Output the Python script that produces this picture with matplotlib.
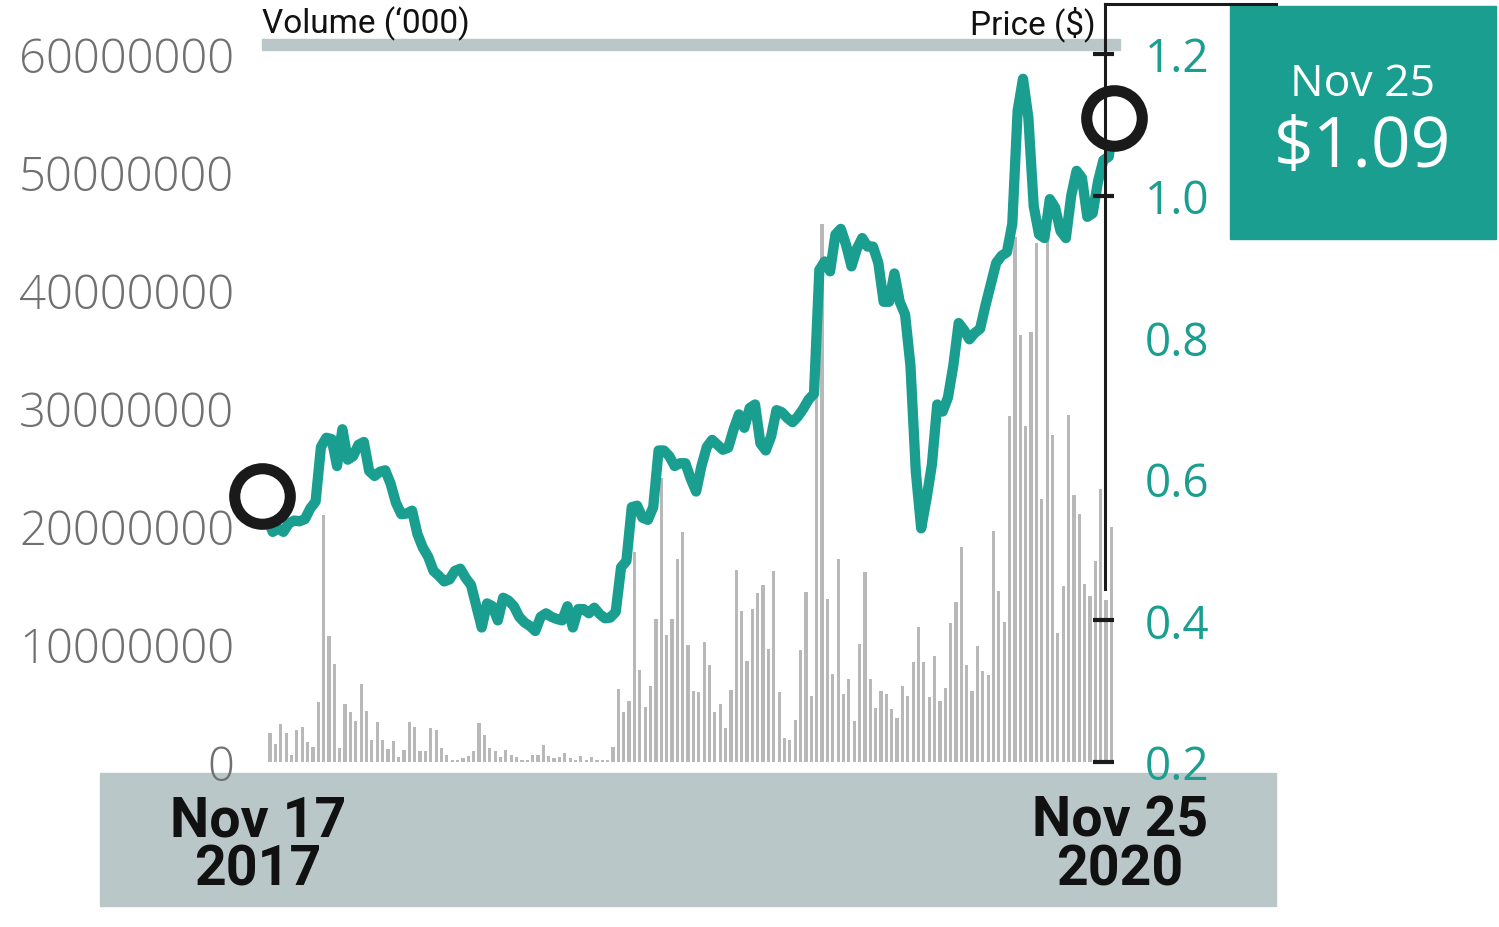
import numpy as np
import matplotlib
matplotlib.use("Agg")
import matplotlib.pyplot as plt
from matplotlib.lines import Line2D
from matplotlib.patches import Rectangle
import matplotlib.transforms as mtransforms

# ---------------- data ----------------
volume_m = [
    2.5, 1.5, 3.2, 2.5, 0.6, 2.7, 3.0, 1.7, 1.3, 5.1,
    20.9, 10.7, 8.3, 1.2, 4.9, 4.2, 3.5, 6.6, 4.3, 1.9,
    3.4, 1.9, 1.1, 1.8, 0.4, 1.0, 3.4, 3.0, 0.9, 0.9,
    2.9, 2.7, 1.2, 0.6, 0.15, 0.15, 0.3, 0.5, 0.9, 3.3,
    2.3, 1.2, 0.9, 0.4, 1.0, 0.6, 0.4, 0.2, 0.2, 0.6,
    0.6, 1.4, 0.5, 0.3, 0.4, 0.8, 0.3, 0.15, 0.5, 0.15,
    0.4, 0.15, 0.15, 0.15, 1.3, 6.2, 4.2, 5.2, 17.8, 7.8,
    4.7, 6.4, 12.1, 24.1, 10.8, 12.1, 17.2, 19.5, 9.9, 6.0,
    5.9, 10.2, 8.2, 4.2, 4.9, 2.9, 6.1, 16.3, 12.8, 8.6,
    13.0, 14.3, 15.0, 9.6, 16.2, 5.9, 2.0, 1.9, 3.6, 9.5,
    14.4, 5.6, 31.0, 45.6, 13.8, 7.5, 17.2, 5.8, 7.0, 3.5,
    10.0, 16.1, 7.0, 4.6, 6.0, 5.8, 4.5, 3.7, 6.4, 5.6,
    8.5, 11.4, 8.5, 5.5, 9.0, 5.2, 6.3, 11.8, 13.6, 18.2,
    8.2, 6.0, 9.8, 7.7, 7.4, 19.6, 14.5, 11.9, 29.3, 44.5,
    36.2, 28.5, 36.4, 44.0, 22.3, 45.0, 27.7, 10.9, 14.9, 29.4,
    22.6, 21.0, 15.1, 14.1, 17.0, 23.1, 13.7, 19.9,
]

price = [
    0.575, 0.545, 0.525, 0.530, 0.525, 0.537, 0.541, 0.540, 0.543, 0.558,
    0.568, 0.645, 0.658, 0.656, 0.618, 0.670, 0.627, 0.632, 0.648, 0.652,
    0.611, 0.604, 0.610, 0.612, 0.593, 0.566, 0.550, 0.551, 0.555, 0.522,
    0.503, 0.490, 0.470, 0.463, 0.455, 0.458, 0.470, 0.473, 0.460, 0.450,
    0.420, 0.390, 0.424, 0.420, 0.400, 0.432, 0.428, 0.420, 0.405, 0.397,
    0.392, 0.385, 0.405, 0.410, 0.405, 0.402, 0.400, 0.420, 0.390, 0.416,
    0.416, 0.410, 0.418, 0.409, 0.403, 0.404, 0.412, 0.475, 0.484, 0.560,
    0.562, 0.545, 0.542, 0.560, 0.640, 0.640, 0.632, 0.618, 0.622, 0.622,
    0.600, 0.582, 0.618, 0.645, 0.655, 0.648, 0.641, 0.644, 0.670, 0.691,
    0.672, 0.700, 0.705, 0.650, 0.640, 0.660, 0.697, 0.694, 0.686, 0.680,
    0.688, 0.699, 0.712, 0.720, 0.895, 0.907, 0.893, 0.945, 0.953, 0.930,
    0.900, 0.925, 0.940, 0.928, 0.928, 0.905, 0.850, 0.850, 0.890, 0.850,
    0.832, 0.760, 0.610, 0.530, 0.572, 0.620, 0.705, 0.695, 0.715, 0.760,
    0.820, 0.810, 0.797, 0.806, 0.812, 0.845, 0.875, 0.905, 0.915, 0.920,
    0.960, 1.120, 1.165, 1.110, 0.985, 0.945, 0.940, 0.995, 0.983, 0.950,
    0.940, 1.000, 1.035, 1.025, 0.970, 0.975, 1.020, 1.050, 1.055, 1.110,
]

vol_ticks = [0, 10000000, 20000000, 30000000, 40000000, 50000000, 60000000]
vol_tick_labels = ["0", "10000000", "20000000", "30000000", "40000000", "50000000", "60000000"]
price_ticks = [0.2, 0.4, 0.6, 0.8, 1.0, 1.2]
price_tick_labels = ["0.2", "0.4", "0.6", "0.8", "1.0", "1.2"]
price_dash_ticks = [0.2, 0.4, 1.0, 1.2]
start_label = "Nov 17\n2017"
end_label = "Nov 25\n2020"
box_date = "Nov 25"
box_price = "$1.09"
vol_title = "Volume (\u2018000)"
price_title = "Price ($)"

# ---------------- style ----------------
W, H = 1499, 928
TEAL = "#1a9e8f"
BAR = "#b8b8b8"
BAND = "#bac7c9"
GREY_TXT = "#707070"
NARROW = ["Roboto", "DejaVu Sans"]
SANS = ["Open Sans", "DejaVu Sans"]

def fx(x):
    return x / W

def fy(y):
    return 1 - y / H

fig = plt.figure(figsize=(W / 100, H / 100), dpi=100)
fig.patch.set_facecolor("white")

# background decorations
fig.add_artist(Rectangle((fx(100), fy(907)), fx(1276) - fx(100), fy(774) - fy(907),
                         transform=fig.transFigure, color=BAND, zorder=0))
fig.add_artist(Rectangle((fx(262), fy(51)), fx(1120) - fx(262), fy(40) - fy(51),
                         transform=fig.transFigure, color=BAND, zorder=0))
fig.add_artist(Rectangle((fx(1230), fy(240)), fx(1496) - fx(1230), fy(7) - fy(240),
                         transform=fig.transFigure, color=TEAL, zorder=0))

left, right, top, bottom = 262, 1120, 55, 763
ax = fig.add_axes([fx(left), fy(bottom), fx(right) - fx(left), fy(top) - fy(bottom)])
ax.set_facecolor("none")
ax2 = ax.twinx()

n = len(volume_m)
xb = np.arange(n)
vol = np.array(volume_m) * 1e6
ax.bar(xb, vol, width=0.6, color=BAR, zorder=1)
ax.set_ylim(0, 60000000)
ax.set_xlim(-1.5, 158.6)

xp = np.arange(len(price)) - 1.5
ax2.plot(xp, price, color=TEAL, lw=7.4, solid_joinstyle="round", solid_capstyle="round", zorder=3)
ax2.plot([xp[0], xp[-1]], [price[0], price[-1]], "o", ms=40, mfc="white", mec="#1a1a1a",
         mew=8, zorder=4, clip_on=False)
ax2.set_ylim(0.2, 1.2)

for a in (ax, ax2):
    for s in a.spines.values():
        s.set_visible(False)
ax.set_xticks([])

ax.set_yticks(vol_ticks)
ax.set_yticklabels(vol_tick_labels)
ax.tick_params(axis="y", length=0, pad=20, labelsize=34, labelcolor=GREY_TXT)
for t in ax.get_yticklabels():
    t.set_family(SANS)
    t.set_fontweight("light")

ax2.set_yticks(price_ticks)
ax2.set_yticklabels(price_tick_labels)
ax2.tick_params(axis="y", length=0, pad=18, labelsize=33, labelcolor=TEAL)
for t in ax2.get_yticklabels():
    t.set_family(SANS)

# right axis line & dashes
blend = mtransforms.blended_transform_factory(ax2.transAxes, ax2.transData)
ax2.hlines(price_dash_ticks, (1093 - left) / (right - left), (1114 - left) / (right - left),
           transform=blend, color="#1a1a1a", lw=3, clip_on=False, zorder=5)
fig.add_artist(Line2D([fx(1105), fx(1105)], [fy(590), fy(5)], transform=fig.transFigure,
                      color="#1a1a1a", lw=2.2, zorder=5))
fig.add_artist(Line2D([fx(1105), fx(1276)], [fy(5), fy(5)], transform=fig.transFigure,
                      color="#1a1a1a", lw=2.2, zorder=5))

# titles
fig.text(fx(262), fy(24), vol_title, ha="left", va="center", fontsize=24,
         family=NARROW, color="#111111")
fig.text(fx(1096), fy(24), price_title, ha="right", va="center", fontsize=24,
         family=NARROW, color="#111111")

# box texts
fig.text(fx(1363), fy(85), box_date, ha="center", va="center", fontsize=32,
         family=SANS, color="white")
fig.text(fx(1363), fy(149), box_price, ha="center", va="center", fontsize=50,
         family=SANS, color="white")

# date labels
fig.text(fx(258), fy(846), start_label, ha="center", va="center", fontsize=40,
         family=NARROW, fontweight="bold", color="#111111", linespacing=0.95)
fig.text(fx(1120), fy(846), end_label, ha="center", va="center", fontsize=40,
         family=NARROW, fontweight="bold", color="#111111", linespacing=0.95)

fig.savefig("out.png", dpi=100, facecolor="white")
